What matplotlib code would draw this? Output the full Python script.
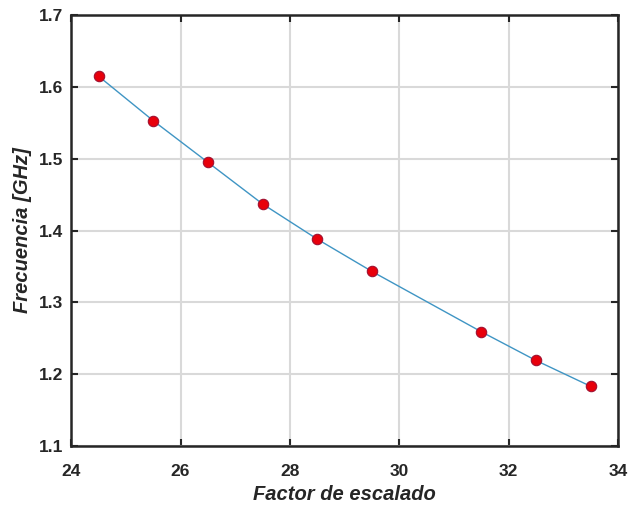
import matplotlib
matplotlib.use('Agg')
import matplotlib.pyplot as plt

# Factor de escalado vs. frecuencia (GHz)
factor = [24.5, 25.5, 26.5, 27.5, 28.5, 29.5, 31.5, 32.5, 33.5]
frecuencia = [1.615, 1.553, 1.495, 1.437, 1.388, 1.343, 1.259, 1.219, 1.183]

x_ticks = [24, 26, 28, 30, 32, 34]
y_ticks = [1.1, 1.2, 1.3, 1.4, 1.5, 1.6, 1.7]

plt.rcParams['font.family'] = ['Liberation Sans', 'DejaVu Sans']

fig = plt.figure(figsize=(6.3, 5.05), dpi=100)
ax = fig.add_axes([0.113, 0.117, 0.868, 0.853])

ax.plot(factor, frecuencia, color='#3f95c4', linewidth=1.0, zorder=2)
ax.plot(factor, frecuencia, linestyle='none', marker='o', markersize=7.5,
        markerfacecolor='#e8000b', markeredgecolor='#a01030', markeredgewidth=0.8, zorder=3)

ax.set_xlim(24, 34)
ax.set_ylim(1.1, 1.7)
ax.set_xticks(x_ticks)
ax.set_yticks(y_ticks)
ax.set_yticklabels([f'{v:.1f}' for v in y_ticks])

ax.grid(True, color='#d9d9d9', linewidth=1.5)
ax.set_axisbelow(True)
for s in ax.spines.values():
    s.set_linewidth(1.8)
    s.set_color('#262626')

ax.tick_params(direction='in', length=5, width=1.5, top=True, right=True,
               labelsize=12.5, colors='#262626')
ax.tick_params(axis='x', pad=13)
ax.tick_params(axis='y', pad=6)
for lbl in ax.get_xticklabels() + ax.get_yticklabels():
    lbl.set_fontweight('bold')

ax.set_xlabel('Factor de escalado', fontsize=14.5, fontweight='bold', style='italic',
              color='#262626', labelpad=4)
ax.set_ylabel('Frecuencia [GHz]', fontsize=14.5, fontweight='bold', style='italic',
              color='#262626', labelpad=5)

fig.savefig('out.png', dpi=100)
